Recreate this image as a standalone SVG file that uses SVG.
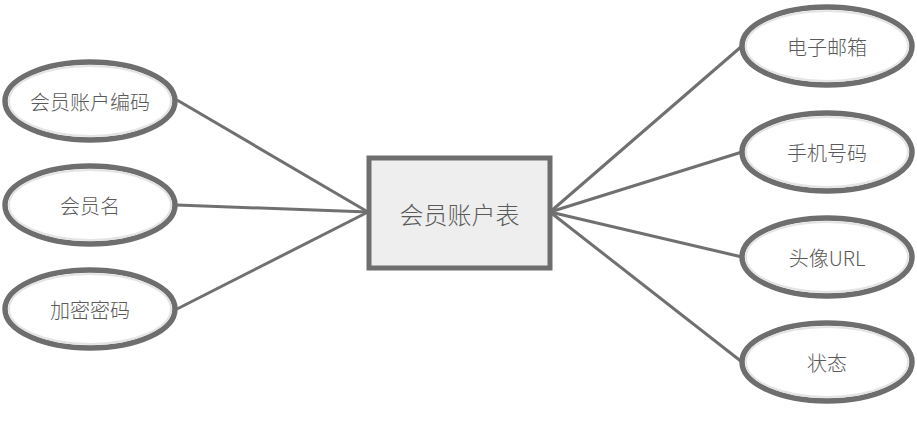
<svg xmlns="http://www.w3.org/2000/svg" width="917" height="426" viewBox="0 0 917 426">
<defs>
<style>
.e{fill:#ffffff;stroke:#6e6e6e;stroke-width:5.5}
.ei{fill:none;stroke:#e4e4e4;stroke-width:2}
.c{stroke:#707070;stroke-width:3;fill:none}
.t{font-family:"Microsoft YaHei","Noto Sans CJK SC","Noto Sans",sans-serif;font-size:20px;font-weight:300;fill:#5a5a5a;text-anchor:middle;dominant-baseline:central}
</style>
</defs>
<rect width="917" height="426" fill="#ffffff"/>
<g id="connectors">
<line class="c" x1="177" y1="100" x2="368" y2="212"/>
<line class="c" x1="177" y1="205" x2="368" y2="212"/>
<line class="c" x1="177" y1="309" x2="368" y2="212"/>
<line class="c" x1="550" y1="212" x2="742" y2="46"/>
<line class="c" x1="550" y1="212" x2="742" y2="152"/>
<line class="c" x1="550" y1="212" x2="742" y2="257"/>
<line class="c" x1="550" y1="212" x2="742" y2="362"/>
</g>
<g id="table">
<rect x="369" y="158" width="181" height="110" fill="#eeeeee" stroke="#6e6e6e" stroke-width="5"/>
<text class="t" x="459.5" y="213" style="font-size:24px">会员账户表</text>
</g>
<g id="n1"><ellipse class="e" cx="90" cy="101" rx="85" ry="39"/><ellipse class="ei" cx="90" cy="101" rx="81" ry="35"/><text class="t" x="90" y="101">会员账户编码</text></g>
<g id="n2"><ellipse class="e" cx="90" cy="205" rx="85" ry="39"/><ellipse class="ei" cx="90" cy="205" rx="81" ry="35"/><text class="t" x="90" y="205">会员名</text></g>
<g id="n3"><ellipse class="e" cx="90" cy="309" rx="85" ry="39"/><ellipse class="ei" cx="90" cy="309" rx="81" ry="35"/><text class="t" x="90" y="309">加密密码</text></g>
<g id="n4"><ellipse class="e" cx="827" cy="46" rx="85" ry="39"/><ellipse class="ei" cx="827" cy="46" rx="81" ry="35"/><text class="t" x="827" y="46">电子邮箱</text></g>
<g id="n5"><ellipse class="e" cx="827" cy="152" rx="85" ry="39"/><ellipse class="ei" cx="827" cy="152" rx="81" ry="35"/><text class="t" x="827" y="152">手机号码</text></g>
<g id="n6"><ellipse class="e" cx="827" cy="257" rx="85" ry="39"/><ellipse class="ei" cx="827" cy="257" rx="81" ry="35"/><text class="t" x="827" y="257">头像URL</text></g>
<g id="n7"><ellipse class="e" cx="827" cy="362" rx="85" ry="39"/><ellipse class="ei" cx="827" cy="362" rx="81" ry="35"/><text class="t" x="827" y="362">状态</text></g>
</svg>
